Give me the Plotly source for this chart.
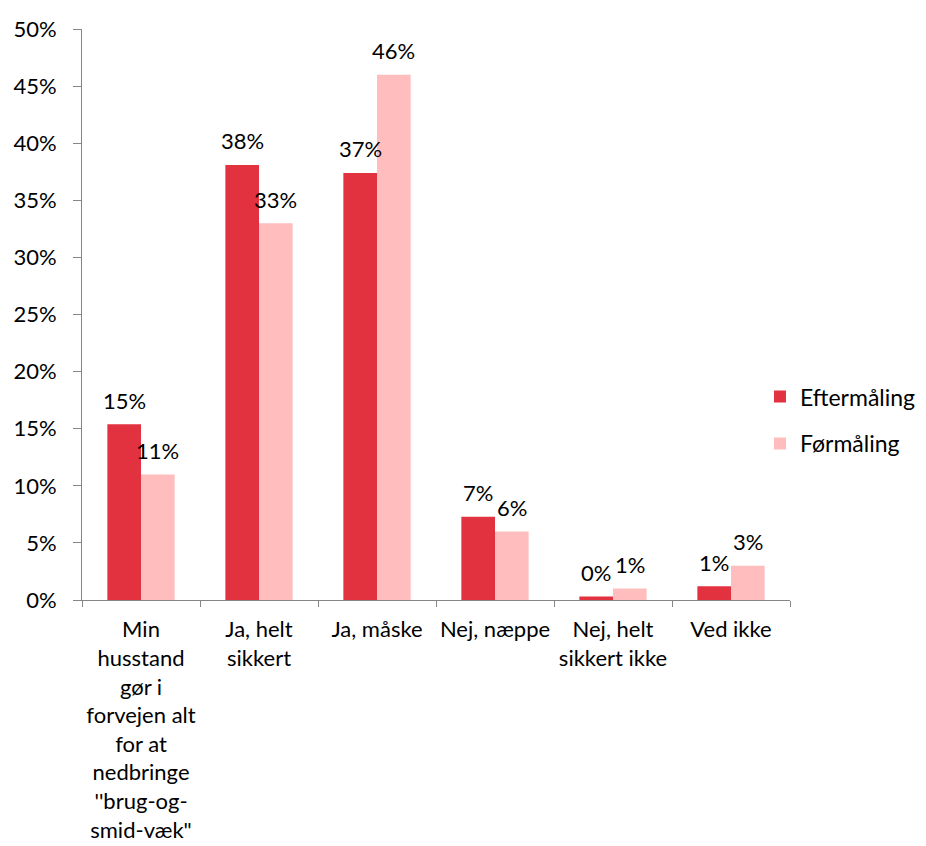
import plotly.graph_objects as go

categories = [
    "Min<br>husstand<br>gør i<br>forvejen alt<br>for at<br>nedbringe<br>''brug-og-<br>smid-væk\"",
    "Ja, helt<br>sikkert",
    "Ja, måske",
    "Nej, næppe",
    "Nej, helt<br>sikkert ikke",
    "Ved ikke",
]
efter = [0.154, 0.381, 0.374, 0.073, 0.003, 0.012]
foer = [0.110, 0.330, 0.460, 0.060, 0.010, 0.030]
series_names = ["Eftermåling", "Førmåling"]
colors = ["#E3323F", "#FFBDBD"]

FONT = "Lato, Liberation Sans, sans-serif"
FS = 22

fig = go.Figure()
for name, vals, col in zip(series_names, [efter, foer], colors):
    fig.add_trace(go.Bar(
        x=categories, y=vals, name=name,
        marker=dict(color=col, line=dict(width=0)),
        legendgroup=name,
    ))

# data labels
W = 926 - 82 - 136
cat_w = W / len(categories)
bargap = 0.43
bar_w = cat_w * (1 - bargap) / 2
for vals, sgn in [(efter, -1), (foer, 1)]:
    for c, v in zip(categories, vals):
        fig.add_annotation(
            x=c, y=v, xref="x", yref="y",
            text=f"{round(v*100):.0f}%", showarrow=False,
            xshift=sgn * bar_w / 2, yshift=24, yanchor="middle",
            font=dict(family=FONT, size=FS, color="#000000"),
        )

fig.update_layout(
    width=926, height=846,
    margin=dict(l=82, r=136, t=29, b=246, autoexpand=False),
    plot_bgcolor="white", paper_bgcolor="white",
    barmode="group", bargap=bargap, bargroupgap=0,
    font=dict(family=FONT, size=FS, color="#000000"),
    legend=dict(x=0.9576, xanchor="left", y=0.315, yanchor="middle",
                traceorder="grouped", tracegroupgap=14,
                bgcolor="rgba(0,0,0,0)",
                font=dict(family=FONT, size=23, color="#000000")),
    showlegend=True,
)
fig.update_yaxes(
    range=[0, 0.5], dtick=0.05, tickformat=".0%",
    showgrid=False, zeroline=False,
    showline=True, linecolor="#868686", linewidth=1,
    ticks="outside", ticklen=8, tickcolor="#868686",
    ticklabelstandoff=12,
)
fig.update_xaxes(
    showgrid=False, showline=True, linecolor="#868686", linewidth=1,
    ticks="outside", ticklen=6, tickcolor="#868686", tickson="boundaries",
    tickangle=0, ticklabelstandoff=10,
)

fig.write_html("out.html")
